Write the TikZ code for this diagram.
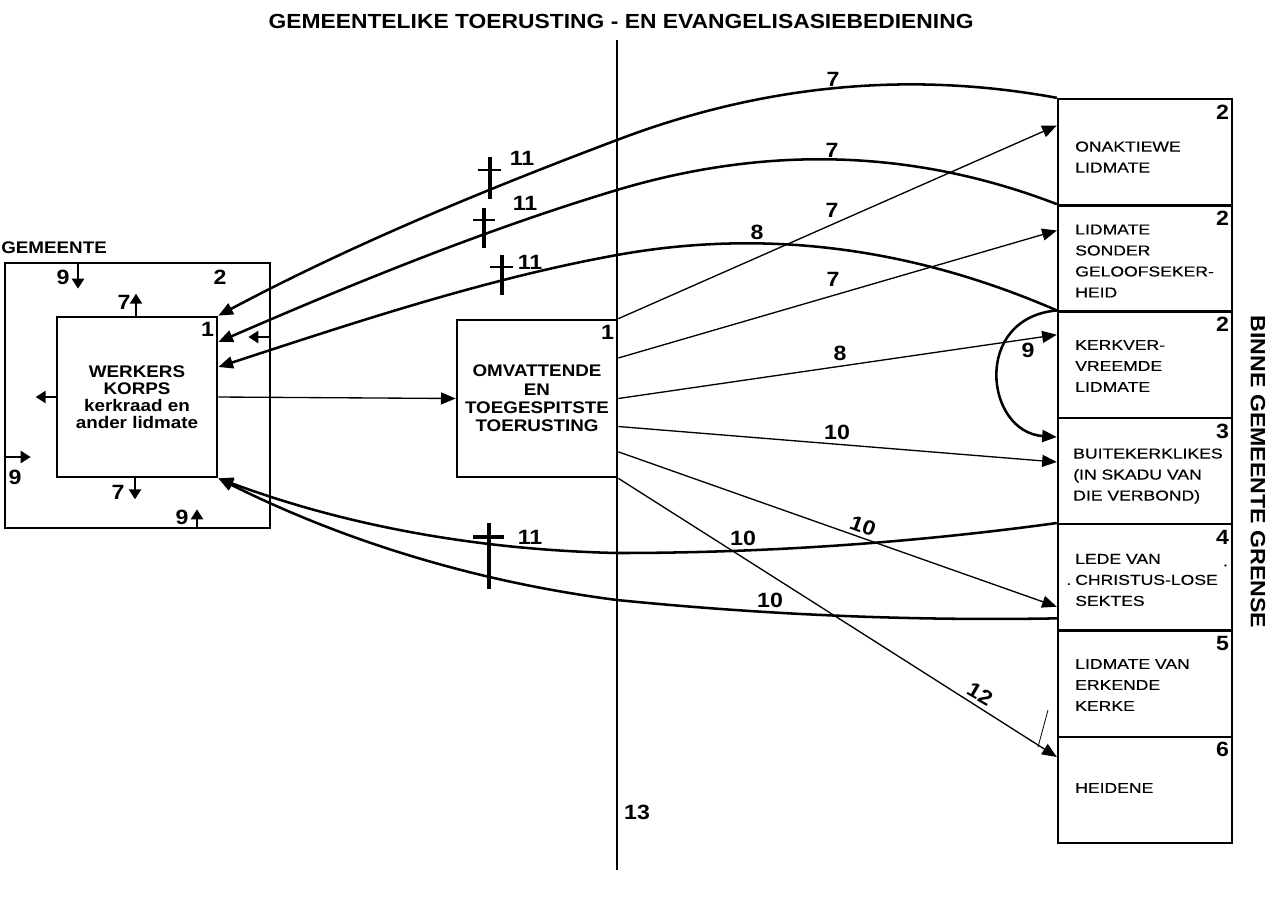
\documentclass[tikz,border=0pt]{standalone}
\usepackage{fontspec}
\setmainfont{Liberation Sans}
\newfontfamily\heavysans[FakeStretch=1.12]{Liberation Sans}
\newfontfamily\widesans[FakeStretch=1.22,FakeBold=0.4]{Liberation Sans}
\usetikzlibrary{arrows.meta}

\tikzset{
  numlbl/.style={inner sep=0pt, font=\heavysans\bfseries\fontsize{15.5}{16}\selectfont},
  boxnum/.style={numlbl, anchor=north east, inner xsep=3pt, inner ysep=5pt},
  unitbox/.style={draw, line width=2pt, minimum width=120pt, minimum height=120pt, inner sep=0pt,
    align=center, font=\heavysans\bfseries\fontsize{12.6}{12.75}\selectfont},
  catbox/.style={draw, line width=1.8pt, minimum width=130.5pt, minimum height=79.7pt, inner sep=0pt},
  cattext/.style={anchor=west, align=left, inner sep=0pt, font=\widesans\fontsize{10.8}{15.75}\selectfont},
  thickflow/.style={line width=1.9pt, -{Triangle[length=11pt,width=9pt]}},
  thinflow/.style={line width=1pt, -{Triangle[length=11pt,width=9pt]}},
  smallarrow/.style={line width=1.8pt, -{Triangle[length=7.5pt,width=9pt]}},
  crossmark/.style={line width=3pt}
}

\begin{document}
\begin{tikzpicture}[x=0.75pt,y=-0.75pt]
  \useasboundingbox (0,0) rectangle (1278,897);

  % title and dividing line
  \node[numlbl, font=\heavysans\bfseries\fontsize{15.3}{16}\selectfont] (title) at (621,21)
    {GEMEENTELIKE TOERUSTING - EN EVANGELISASIEBEDIENING};
  \coordinate (vtop) at (617,40);
  \coordinate (vbot) at (617,870);
  \draw[line width=1.5pt] (vtop) -- (vbot);
  \node[numlbl] (l13) at (637,812) {13};

  % gemeente with the werkers korps
  \node[draw, line width=2pt, minimum width=198.75pt, minimum height=198.75pt, inner sep=0pt] (g) at (137.5,395.5) {};
  \node[anchor=south west, inner sep=0pt, font=\heavysans\bfseries\fontsize{12.6}{13}\selectfont] (glbl)
    at ([xshift=-2pt,yshift=6pt]g.north west) {GEMEENTE};
  \node[unitbox] (w) at (137,397) {WERKERS\\KORPS\\kerkraad en\\ander lidmate};
  \node[boxnum] (w1) at (w.north east) {1};
  \node[numlbl] (g2) at (220,277) {2};

  \draw[smallarrow] (78,0 |- g.north) -- ++(0,27);
  \node[numlbl] (g9a) at (63,277) {9};
  \draw[smallarrow] (136,0 |- w.north) -- ++(0,-22);
  \node[numlbl] (w7a) at (124,302) {7};
  \draw[smallarrow] (w.west) -- ++(-20,0);
  \draw[smallarrow] (0,457 -| g.west) -- ++(27,0);
  \node[numlbl] (g9b) at (15,477) {9};
  \draw[smallarrow] (135,0 |- w.south) -- ++(0,21);
  \node[numlbl] (w7b) at (118,492) {7};
  \draw[smallarrow] (197,0 |- g.south) -- ++(0,-20);
  \node[numlbl] (g9c) at (182,517) {9};
  \draw[smallarrow] (0,337 -| g.east) -- ++(-23,0);

  % toerusting
  \node[unitbox, minimum height=117.75pt, font=\heavysans\bfseries\fontsize{12.6}{13.7}\selectfont] (m)
    at (537,398.5) {OMVATTENDE\\EN\\TOEGESPITSTE\\TOERUSTING};
  \node[boxnum] (m1) at (m.north east) {1};
  \draw[thinflow] (w.east) -- (m.west);

  % groups inside the boundary
  \foreach \i/\n in {1/2,2/2,3/2,4/3,5/4,6/5,7/6}{
    \node[catbox] (r\i) at (1145,{45.85+106.3*\i}) {};
    \node[boxnum] (n\i) at (r\i.north east) {\n};
  }
  \node[cattext] (t1) at (1075,157) {ONAKTIEWE\\LIDMATE};
  \node[cattext] (t2) at (1075,261) {LIDMATE\\SONDER\\GELOOFSEKER-\\HEID};
  \node[cattext] (t3) at (1075,366) {KERKVER-\\VREEMDE\\LIDMATE};
  \node[cattext] (t4) at (1073,476) {BUITEKERKLIKES\\(IN SKADU VAN\\DIE VERBOND)};
  \node[cattext] (t5) at (1075,580) {LEDE VAN\\\llap{.\hspace{3pt}}CHRISTUS-LOSE\rlap{\hspace{4pt}\smash{\raisebox{14pt}{.}}}\\SEKTES};
  \node[cattext] (t6) at (1075,685) {LIDMATE VAN\\ERKENDE\\KERKE};
  \node[cattext] (t7) at (1075,788) {HEIDENE};
  \node[numlbl, rotate=-90] (binne) at (1258,472) {BINNE GEMEENTE GRENSE};

  % returning flows
  \draw[thickflow] (r1.north west) .. controls (911,71) and (764,84) .. (617,140)
    .. controls (487,189) and (352,244.5) .. (w.north east);
  \draw[thickflow] (r2.north west) .. controls (911,148) and (764,146) .. (617,190)
    .. controls (485,229.6) and (352,284) .. ([yshift=41.25pt]w.east);
  \draw[thickflow] (r3.north west) .. controls (911,247) and (764,228.5) .. (617,255)
    .. controls (485,278.8) and (352,323.4) .. ([yshift=22.5pt]w.east);
  \draw[thickflow] (r5.north west) .. controls (911,543) and (764,553) .. (617,553)
    .. controls (485,550) and (352,528) .. (w.south east);
  \draw[thickflow] ([yshift=-30.75pt]r5.west) .. controls (911,621) and (764,614.7) .. (617,600)
    .. controls (485,583) and (352,545) .. (w.south east);
  \draw[thickflow] (r3.north west) .. controls (972,318) and (985,432) .. ([yshift=25.5pt]r4.west);
  \node[numlbl] (c7a) at (833,79) {7};
  \node[numlbl] (c7b) at (832,150) {7};
  \node[numlbl] (c8) at (757,232) {8};
  \node[numlbl] (c10a) at (743,538) {10};
  \node[numlbl] (c10b) at (770,600) {10};
  \node[numlbl] (c9) at (1028,350) {9};

  % crosses
  \draw[crossmark] (490,157) -- (490,199);
  \draw[line width=2pt] (478,170) -- (501,170);
  \node[numlbl] (x11a) at (522,158) {11};
  \draw[crossmark] (484,208) -- (484,248);
  \draw[line width=2pt] (473,220) -- (495,220);
  \node[numlbl] (x11b) at (525,203) {11};
  \draw[crossmark] (502,255) -- (502,295);
  \draw[line width=2pt] (490,267) -- (513,267);
  \node[numlbl] (x11c) at (530,262) {11};
  \draw[line width=3.6pt] (489,523) -- (489,589);
  \draw[line width=3.6pt] (473,537) -- (504,537);
  \node[numlbl] (x11d) at (530,537) {11};

  % outgoing flows
  \draw[thinflow] (m.north east) -- ([yshift=20pt]r1.west);
  \node[numlbl] (s7a) at (832,210) {7};
  \draw[thinflow] ([yshift=30.4pt]m.east) -- ([yshift=21pt]r2.west);
  \node[numlbl] (s7b) at (833,279) {7};
  \draw[thinflow] (m.east) -- ([yshift=22.5pt]r3.west);
  \node[numlbl] (s8) at (840,353) {8};
  \draw[thinflow] ([yshift=-21pt]m.east) -- ([yshift=6.75pt]r4.west);
  \node[numlbl] (s10a) at (837,432) {10};
  \draw[thinflow] ([yshift=-40pt]m.east) -- ([yshift=-22pt]r5.west);
  \node[numlbl, rotate=-20] (s10b) at (863,526) {10};
  \draw[thinflow] (m.south east) -- ([yshift=24.75pt]r7.west);
  \node[numlbl, rotate=-30] (s12) at (980,694) {12};
  \draw[line width=0.6pt] (1048,710) -- (1038,747);
\end{tikzpicture}
\end{document}
